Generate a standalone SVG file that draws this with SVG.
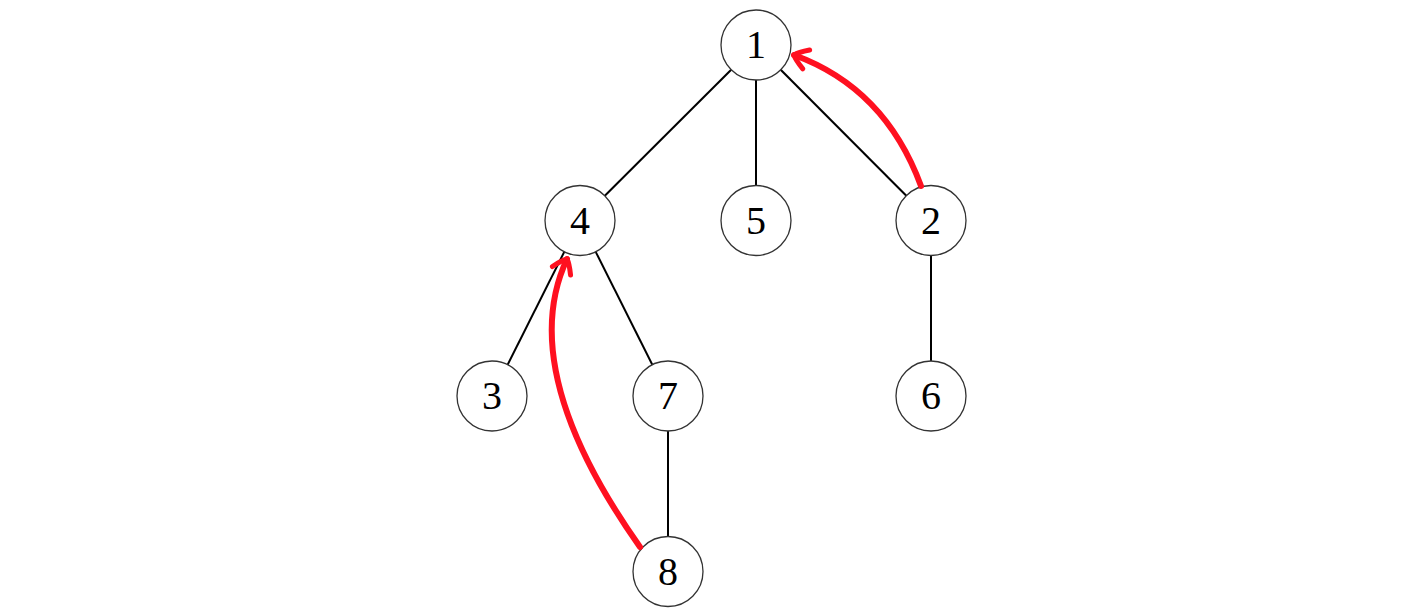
<svg xmlns="http://www.w3.org/2000/svg" width="1416" height="616" viewBox="0 0 1416 616">
<style>
.edge{stroke:#000;stroke-width:2;fill:none}
.red{stroke:#ff1020;stroke-width:6;fill:none;stroke-linecap:round}
.node circle{fill:#fff;stroke:#333;stroke-width:1.3}
.node text{font-family:"Liberation Serif","DejaVu Serif",serif;font-size:40px;fill:#000;text-anchor:middle}
</style>
<defs>
<marker id="hook" markerUnits="userSpaceOnUse" markerWidth="30" markerHeight="30" viewBox="-20 -15 30 30" refX="0" refY="0" orient="auto">
<path d="M-13,-10 Q-3,-4 0,0 Q-3,4 -13,10" fill="none" stroke="#ff1020" stroke-width="5" stroke-linecap="round"/>
</marker>
</defs>
<rect width="1416" height="616" fill="#fff"/>
<g id="connectors">
<line class="edge" x1="756" y1="45" x2="580" y2="220.5"/>
<line class="edge" x1="756" y1="45" x2="756" y2="220.5"/>
<line class="edge" x1="756" y1="45" x2="931" y2="220.5"/>
<line class="edge" x1="580" y1="220.5" x2="492" y2="396"/>
<line class="edge" x1="580" y1="220.5" x2="668" y2="396"/>
<line class="edge" x1="931" y1="220.5" x2="931" y2="396"/>
<line class="edge" x1="668" y1="396" x2="668" y2="571.5"/>
</g>
<g id="n1" class="node"><circle cx="756" cy="45" r="35"/><text x="756" y="58">1</text></g>
<g id="n4" class="node"><circle cx="580" cy="220.5" r="35"/><text x="580" y="233.5">4</text></g>
<g id="n5" class="node"><circle cx="756" cy="220.5" r="35"/><text x="756" y="233.5">5</text></g>
<g id="n2" class="node"><circle cx="931" cy="220.5" r="35"/><text x="931" y="233.5">2</text></g>
<g id="n3" class="node"><circle cx="492" cy="396" r="35"/><text x="492" y="409">3</text></g>
<g id="n7" class="node"><circle cx="668" cy="396" r="35"/><text x="668" y="409">7</text></g>
<g id="n6" class="node"><circle cx="931" cy="396" r="35"/><text x="931" y="409">6</text></g>
<g id="n8" class="node"><circle cx="668" cy="571.5" r="35"/><text x="668" y="584.5">8</text></g>
<g id="red-arrows">
<path class="red" d="M921,186 Q885,88 794,55" marker-end="url(#hook)"/>
<path class="red" d="M640,547 Q515,370 567,259" marker-end="url(#hook)"/>
</g>
</svg>
